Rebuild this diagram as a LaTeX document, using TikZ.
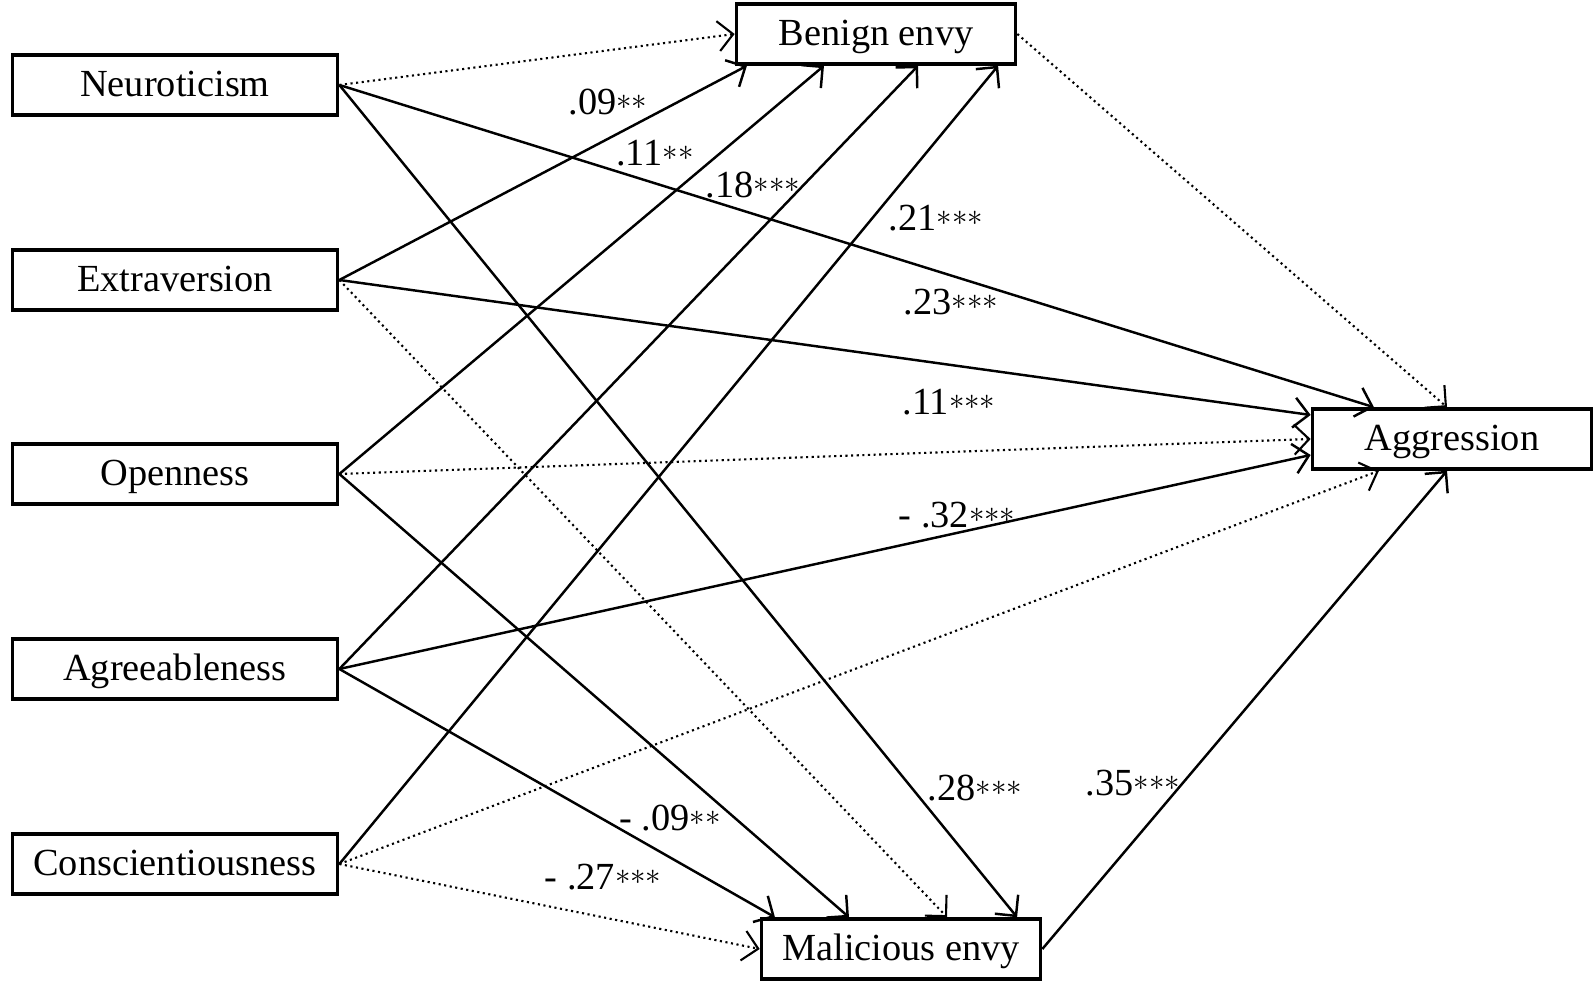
\documentclass[tikz,border=0pt]{standalone}
\usepackage{fontspec}
\setmainfont{Liberation Serif}
\usetikzlibrary{arrows.meta}
\newcommand{\aster}{\raisebox{0.12em}{\scalebox{0.8}{$\ast$}}}
\tikzset{
  var/.style={draw, line width=1pt, minimum width=3.25cm, minimum height=0.6cm, inner sep=0pt,
    text height=0.88em, text depth=0.24em},
  envy/.style={var, minimum width=2.79cm},
  ns/.style={->, densely dotted, line width=0.6pt},
  coef/.style={inner sep=0pt}
}
\begin{document}
\begin{tikzpicture}[x=0.01cm, y=-0.01cm, line width=0.7pt,
    >={Straight Barb[length=1.5mm,width=3mm]},
    font=\fontsize{10.9}{13}\selectfont]
      \useasboundingbox (0,0) rectangle (1594,992);
      % traits
      \node [var] (neu) at (175,85) {Neuroticism};
      \node [var] (ext) at (175,280) {Extraversion};
      \node [var] (ope) at (175,474) {Openness};
      \node [var] (agr) at (175,669) {Agreeableness};
      \node [var] (con) at (175,864) {Conscientiousness};
      % mediators and outcome
      \node [envy] (ben) at (876,34) {Benign envy};
      \node [envy] (mal) at (901,949) {Malicious envy};
      \node [envy] (agg) at (1452,439) {Aggression};
      % paths
      \draw [ns] (neu.east) -- (ben.west);
      \draw [->] (neu.east) -- ([xshift=-0.78cm]agg.north);
      \draw [->] (neu.east) -- ([xshift=1.16cm]mal.north);
      \draw [->] (ext.east) -- ([xshift=-1.29cm]ben.south);
      \draw [->] (ext.east) -- ([yshift=0.24cm]agg.west);
      \draw [ns] (ext.east) -- ([xshift=0.46cm]mal.north);
      \draw [->] (ope.east) -- ([xshift=-0.52cm]ben.south);
      \draw [ns] (ope.east) -- (agg.west);
      \draw [->] (ope.east) -- ([xshift=-0.52cm]mal.north);
      \draw [->] (agr.east) -- ([xshift=0.42cm]ben.south);
      \draw [->] (agr.east) -- ([yshift=-0.16cm]agg.west);
      \draw [->] (agr.east) -- ([xshift=-1.26cm]mal.north);
      \draw [->] (con.east) -- ([xshift=1.22cm]ben.south);
      \draw [ns] (con.east) -- ([xshift=-0.73cm]agg.south);
      \draw [ns] (con.east) -- (mal.west);
      \draw [ns] (ben.east) -- ([xshift=-0.05cm]agg.north);
      \draw [->] (mal.east) -- ([xshift=-0.05cm]agg.south);
      % coefficients
      \node [coef] (c1) at (608,102) {.09\aster\aster};
      \node [coef] (c2) at (655,153) {.11\aster\aster};
      \node [coef] (c3) at (753,185) {.18\aster\aster\aster};
      \node [coef] (c4) at (936,218) {.21\aster\aster\aster};
      \node [coef] (c5) at (951,302) {.23\aster\aster\aster};
      \node [coef] (c6) at (949,402) {.11\aster\aster\aster};
      \node [coef] (c7) at (957,515) {- .32\aster\aster\aster};
      \node [coef] (c8) at (975,788) {.28\aster\aster\aster};
      \node [coef] (c9) at (1133,783) {.35\aster\aster\aster};
      \node [coef] (c10) at (670,818) {- .09\aster\aster};
      \node [coef] (c11) at (603,877) {- .27\aster\aster\aster};
\end{tikzpicture}
\end{document}
